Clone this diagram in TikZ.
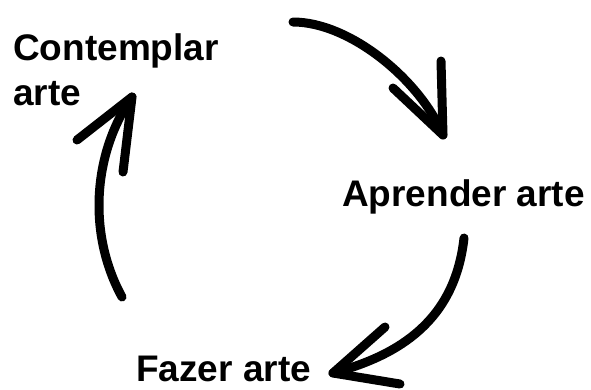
\documentclass[tikz,border=0pt]{standalone}
\usepackage{fontspec}
\setmainfont{Liberation Sans}
\usetikzlibrary{positioning}

\tikzset{
    etapa/.style={inner sep=0pt, anchor=base west, font=\bfseries\fontsize{37}{45}\selectfont, align=left},
    traco/.style={line width=9pt, line cap=round, line join=round, black}
}

\begin{document}
\begin{tikzpicture}[x=1pt, y=-1pt]

        \useasboundingbox (0,0) rectangle (591,389);

        % etapas
        \node[etapa] (contemplar) at (13,105) {Contemplar\\arte};
        \node[etapa] (aprender) at (342,206) {Aprender arte};
        \node[etapa] (fazer) at (136,381) {Fazer arte};

        % pontas das setas
        \coordinate (c1) at (122,297);
        \coordinate (p1) at (132,97);
        \coordinate (c2) at (293,22);
        \coordinate (p2) at (443,135);
        \coordinate (c3) at (464,238);
        \coordinate (p3) at (333,373);

        % fazer -> contemplar
        \draw[traco] (c1) .. controls (88,235) and (92,155) .. (p1);
        \draw[traco] (77,140) -- (p1) -- (123,172);

        % contemplar -> aprender
        \draw[traco] (c2) .. controls (350,22) and (420,80) .. (p2);
        \draw[traco] (393,88) -- (p2) -- (441,61);

        % aprender -> fazer
        \draw[traco] (c3) .. controls (455,320) and (400,355) .. (p3);
        \draw[traco] (385,327) -- (p3) -- (400,384);

\end{tikzpicture}
\end{document}
